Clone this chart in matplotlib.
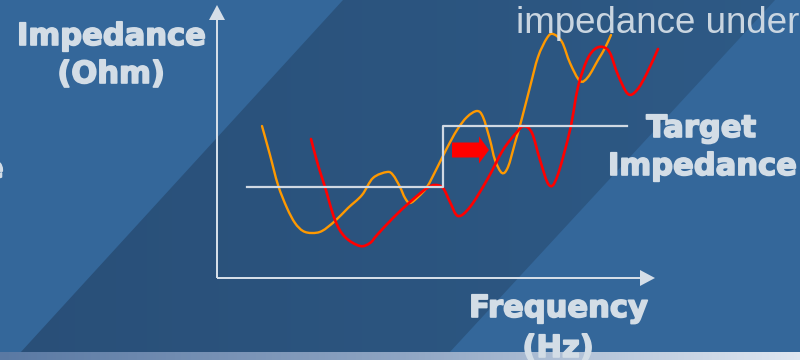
import numpy as np
import matplotlib
matplotlib.use('Agg')
import matplotlib.pyplot as plt
import matplotlib.patheffects as pe
from matplotlib.patches import Polygon, FancyArrow, PathPatch
from matplotlib.path import Path

# impedance curves (frequency, impedance) in arbitrary chart units
orange_f = [45, 53, 61, 70, 78, 86, 95, 105, 118, 131, 145, 156, 170, 176, 183, 188, 193,
            201, 210, 220, 230, 240, 250, 260, 266, 273, 278, 285, 291, 298, 305, 313, 321,
            330, 336, 345, 353, 363, 371, 381, 388, 394]
orange_z = [152, 123, 93, 70, 55, 47, 45, 47, 57, 70, 83, 100, 106, 103, 91, 80, 75,
            81, 91, 110, 130, 148, 161, 167, 161, 138, 118, 105, 111, 135, 160, 191, 221,
            240, 244, 236, 215, 197, 201, 218, 230, 243]

red_f = [94, 101, 108, 118, 128, 143, 153, 160, 176, 193, 210, 218, 226, 233, 241, 253, 270,
         286, 300, 307, 315, 323, 332, 340, 353, 361, 370, 378, 386, 393, 401, 411, 420,
         430, 441]
red_z = [139, 113, 91, 58, 41, 32, 35, 43, 60, 76, 90, 93, 90, 76, 62, 71, 98,
         128, 146, 152, 145, 118, 93, 101, 148, 191, 218, 229, 231, 225, 203, 184, 188,
         205, 229]

# target impedance step
target_f = [30, 226, 226, 410]
target_z = [91, 91, 152, 152]

W, H = 800, 360


def smooth_path(xs, ys):
    # Catmull-Rom style cubic Bezier through the given points
    p = np.column_stack([xs, ys]).astype(float)
    verts = [p[0]]
    codes = [Path.MOVETO]
    n = len(p)
    for i in range(n - 1):
        p0 = p[max(i - 1, 0)]
        p1, p2 = p[i], p[i + 1]
        p3 = p[min(i + 2, n - 1)]
        verts += [p1 + (p2 - p0) / 6, p2 - (p3 - p1) / 6, p2]
        codes += [Path.CURVE4] * 3
    return Path(verts, codes)


fig = plt.figure(figsize=(8, 3.6), dpi=100)

# background
bg = fig.add_axes([0, 0, 1, 1])
bg.axis('off')
bg.add_patch(Polygon([(0, 0), (W, 0), (W, H), (0, H)], closed=True, color='#34679a', lw=0))
band = Polygon([(343, 0), (775, 0), (449, 353), (20, 353)], closed=True, lw=0, facecolor='none')
bg.add_patch(band)
grad = np.linspace(0, 1, 256).reshape(1, -1)
band_cmap = matplotlib.colors.LinearSegmentedColormap.from_list('band', ['#294f78', '#2e5a86'])
im = bg.imshow(grad, extent=(0, W, H, 0), cmap=band_cmap, aspect='auto', zorder=1)
im.set_clip_path(band)
bar_cmap = matplotlib.colors.LinearSegmentedColormap.from_list('bar', ['#5a79a3', '#8fa5c3', '#dfe7f1'])
bg.imshow(grad, extent=(0, W, H, 352), cmap=bar_cmap, aspect='auto', zorder=2)
bg.set_xlim(0, W)
bg.set_ylim(H, 0)

# chart area: 1 unit = 1 pixel
ax = fig.add_axes([217 / W, (H - 278) / H, 450 / W, 273 / H])
ax.set_xlim(0, 450)
ax.set_ylim(0, 273)
ax.axis('off')
ax.patch.set_alpha(0)

axis_col = '#d5dee8'
ax.add_patch(FancyArrow(0, 0, 0, 273, width=2, head_width=16, head_length=15,
                        length_includes_head=True, color=axis_col, lw=0, clip_on=False))
ax.add_patch(FancyArrow(0, 0, 438, 0, width=2, head_width=16, head_length=15,
                        length_includes_head=True, color=axis_col, lw=0, clip_on=False))

ax.plot(target_f, target_z, color='#d0d9e3', lw=1.6, clip_on=False)
ax.add_patch(PathPatch(smooth_path(orange_f, orange_z), facecolor='none',
                       edgecolor='#ff9900', lw=1.7, capstyle='round', clip_on=False))
ax.add_patch(PathPatch(smooth_path(red_f, red_z), facecolor='none',
                       edgecolor='#ff0000', lw=1.9, capstyle='round', clip_on=False))

ax.add_patch(FancyArrow(235, 128, 37, 0, width=15, head_width=27, head_length=10,
                        length_includes_head=True, color='#ff0000', lw=0, clip_on=False))

# labels
txt_col = '#d3dde6'
def label(x, y, s, **kw):
    fig.text(x / W, 1 - y / H, s, color=txt_col, va='baseline', **kw)

heavy = [pe.withStroke(linewidth=1.2, foreground=txt_col)]
bold = dict(fontsize=22, fontweight='bold', family='DejaVu Sans', ha='center',
            path_effects=heavy)
label(111, 45, 'Impedance', **bold)
label(111, 83, '(Ohm)', **bold)
label(701, 137, 'Target', **bold)
label(702, 175, 'Impedance', **bold)
label(558, 317, 'Frequency', **bold)
label(558, 357, '(Hz)', **bold)
label(-17, 178, 'e', fontsize=22, fontweight='bold', family='DejaVu Sans', ha='left',
      path_effects=heavy)
label(516, 33, 'impedance under', fontsize=26.5, family='Liberation Sans', ha='left',
      alpha=0.95)

fig.savefig('out.png', dpi=100)
